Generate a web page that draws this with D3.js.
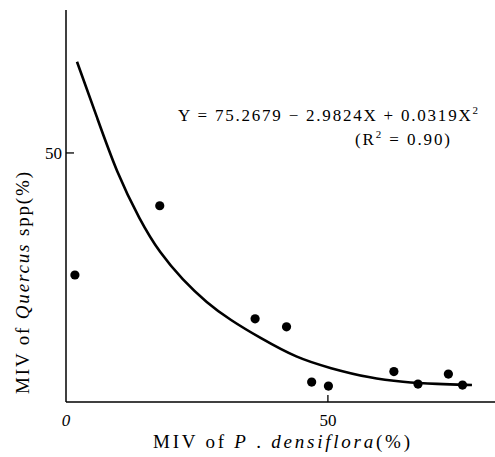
<!DOCTYPE html>
<html><head><meta charset="utf-8">
<script src="https://cdn.jsdelivr.net/npm/d3@7"></script>
<style>body{margin:0;background:#fff}svg{display:block}</style>
</head><body>
<svg id="c" width="495" height="457"></svg>
<script>
// observed points: MIV of P. densiflora (%) vs MIV of Quercus spp (%)
const pointX = [1.7, 17.9, 36.1, 42.1, 46.9, 50.1, 62.6, 67.2, 73.0, 75.7];
const pointY = [25.5, 39.4, 16.7, 15.1, 4.0, 3.2, 6.1, 3.6, 5.6, 3.4];
// fitted curve as drawn
const curveX = [2.1, 5.9, 9.7, 14.1, 17.9, 22.3, 26.9, 31.3, 37.0, 44.1, 50.4, 58.0, 64.3, 70.8, 77.5];
const curveY = [68.3, 57.2, 46.0, 36.5, 29.9, 24.5, 19.9, 16.5, 12.9, 8.8, 6.8, 4.8, 4.0, 3.6, 3.4];
const xTicks = [0, 50];
const yTicks = [50];

const svg = d3.select("#c");
const x = d3.scaleLinear().domain([0, 81.9]).range([66, 495]);
const y = d3.scaleLinear().domain([0, 78.7]).range([402, 10]);
const font = "'Liberation Serif','DejaVu Serif',serif";

svg.append("line").attr("x1", x(0)).attr("x2", x(0)).attr("y1", y(78.7)).attr("y2", y(0))
  .attr("stroke", "#000").attr("stroke-width", 1.5);
svg.append("line").attr("x1", x(0)).attr("x2", x(81.9)).attr("y1", y(0)).attr("y2", y(0))
  .attr("stroke", "#000").attr("stroke-width", 1.5);

xTicks.forEach(t => {
  if (t > 0) svg.append("line").attr("x1", x(t)).attr("x2", x(t)).attr("y1", y(0)).attr("y2", y(0) - 7)
    .attr("stroke", "#000").attr("stroke-width", 1.3);
  svg.append("text").attr("x", x(t)).attr("y", 426).attr("text-anchor", "middle")
    .attr("font-family", font).attr("font-size", 17)
    .attr("font-style", t === 0 ? "italic" : "normal").text(t);
});
yTicks.forEach(t => {
  svg.append("line").attr("x1", x(0)).attr("x2", x(0) + 8).attr("y1", y(t)).attr("y2", y(t))
    .attr("stroke", "#000").attr("stroke-width", 1.3);
  svg.append("text").attr("x", 62).attr("y", y(t) + 6).attr("text-anchor", "end")
    .attr("font-family", font).attr("font-size", 17).text(t);
});

const line = d3.line().x((d, i) => x(curveX[i])).y((d, i) => y(curveY[i])).curve(d3.curveBasis);
svg.append("path").attr("d", line(curveX)).attr("fill", "none").attr("stroke", "#000").attr("stroke-width", 2.6);

svg.selectAll("circle.p").data(pointX).enter().append("circle")
  .attr("cx", (d) => x(d)).attr("cy", (d, i) => y(pointY[i])).attr("r", 4.6).attr("fill", "#000");

const eq = svg.append("text").attr("x", 178).attr("y", 121).attr("font-family", font).attr("font-size", 17)
  .attr("textLength", 300).attr("lengthAdjust", "spacing");
eq.append("tspan").text("Y = 75.2679 − 2.9824X + 0.0319X");
eq.append("tspan").attr("dy", -7).attr("font-size", 11).text("2");
const r2 = svg.append("text").attr("x", 355).attr("y", 145).attr("font-family", font).attr("font-size", 17)
  .attr("textLength", 95).attr("lengthAdjust", "spacing");
r2.append("tspan").text("(R");
r2.append("tspan").attr("dy", -7).attr("font-size", 11).text("2");
r2.append("tspan").attr("dy", 7).text(" = 0.90)");

const xt = svg.append("text").attr("x", 153).attr("y", 448)
  .attr("font-family", font).attr("font-size", 19).attr("textLength", 257).attr("lengthAdjust", "spacing");
xt.append("tspan").text("MIV of ");
xt.append("tspan").attr("font-style", "italic").text("P");
xt.append("tspan").text(" .  ");
xt.append("tspan").attr("font-style", "italic").text("densiflora");
xt.append("tspan").text("(%)");

const yt = svg.append("text").attr("transform", "translate(29,394) rotate(-90)")
  .attr("font-family", font).attr("font-size", 19).attr("textLength", 222).attr("lengthAdjust", "spacing");
yt.append("tspan").text("MIV of ");
yt.append("tspan").attr("font-style", "italic").text("Quercus");
yt.append("tspan").text(" spp(%)");
</script>
</body></html>
